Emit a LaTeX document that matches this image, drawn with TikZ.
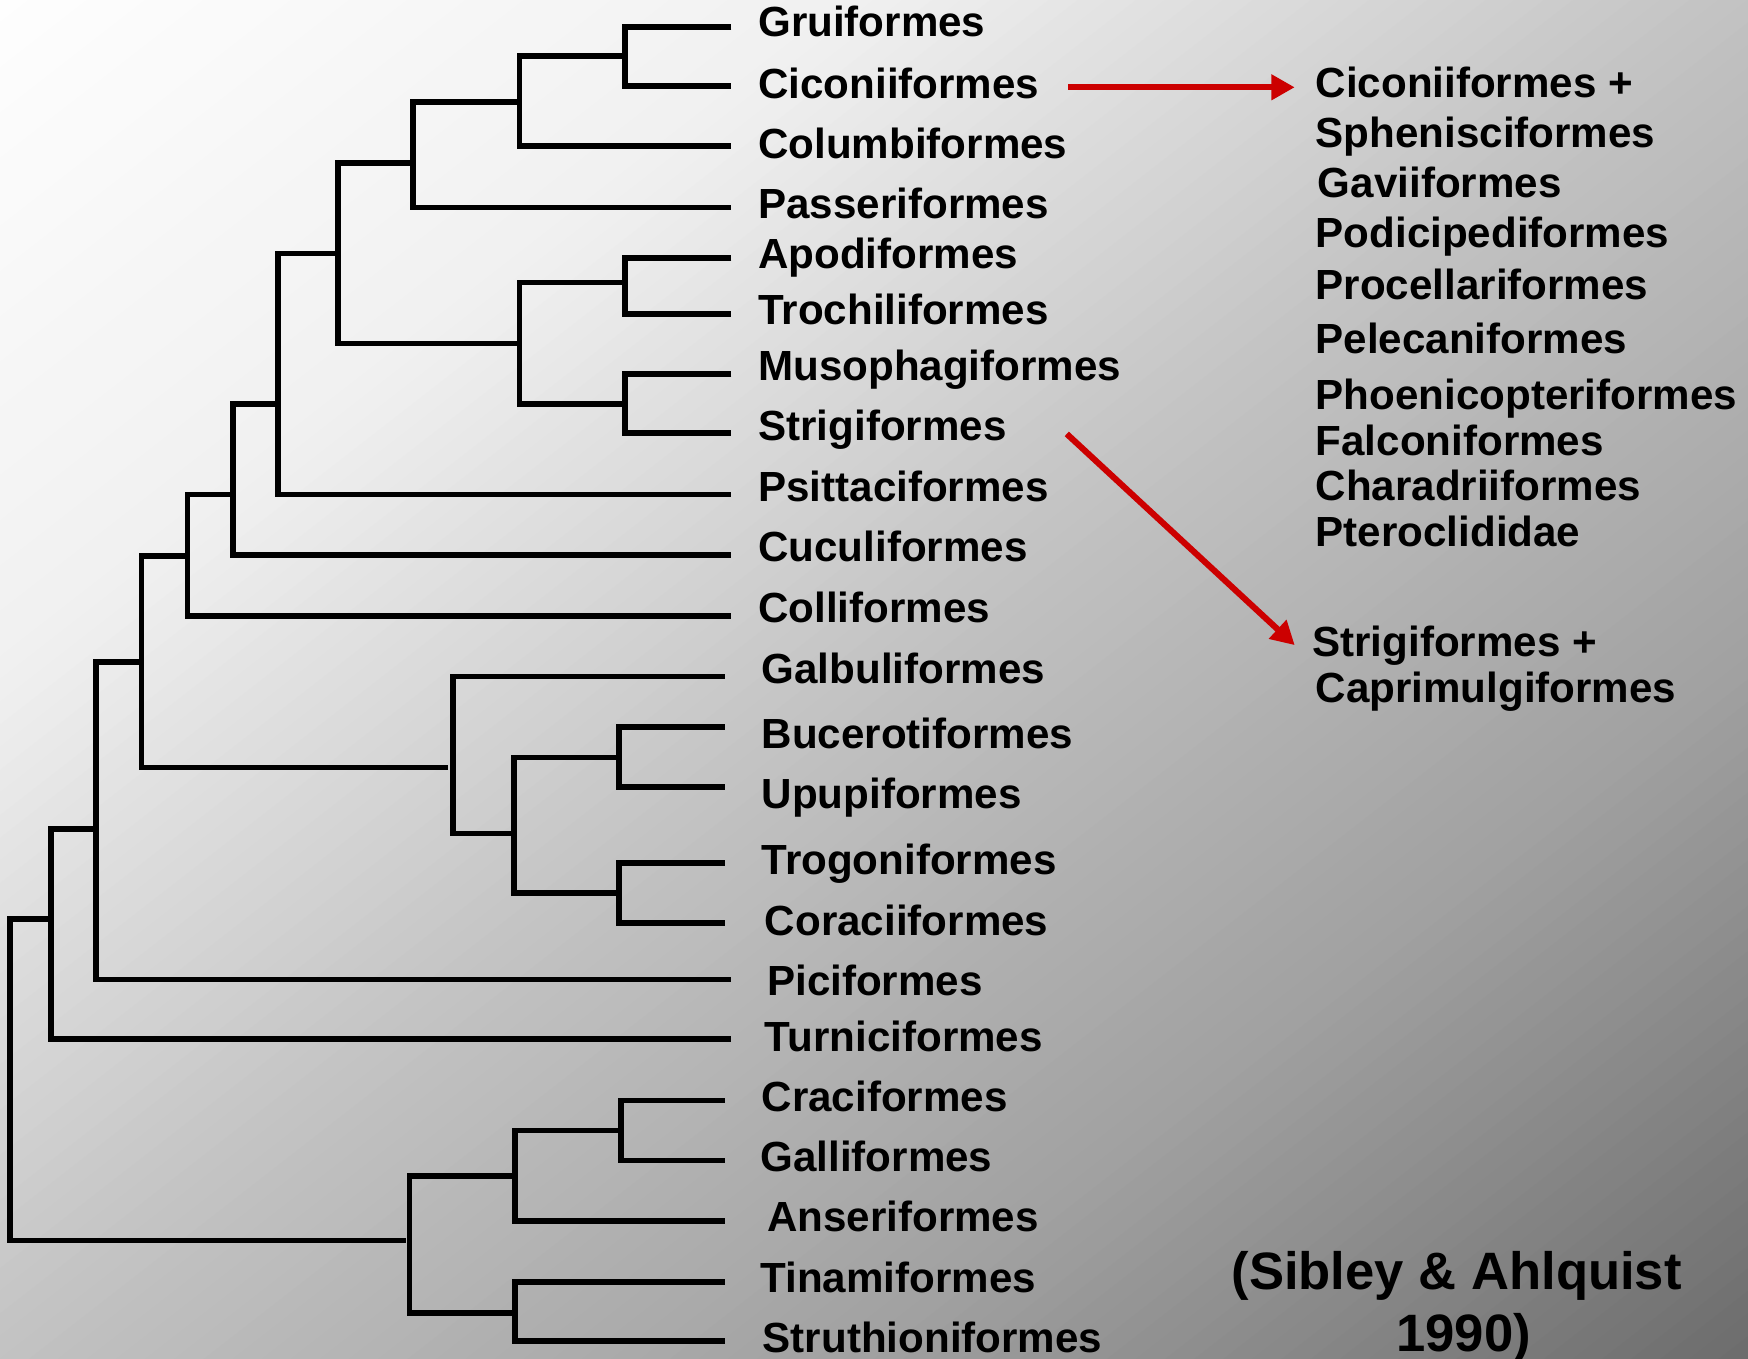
\documentclass[tikz,border=0pt]{standalone}
\usepackage{fontspec}
\setmainfont{Liberation Sans}
\usetikzlibrary{arrows.meta}
\definecolor{arrred}{RGB}{204,0,0}
\begin{document}
\begin{tikzpicture}[x=1pt,y=-1pt,
  br/.style={line width=5pt, black, line join=miter},
  lab/.style={anchor=base west, inner sep=0pt, font=\fontsize{37.8}{42}\selectfont\bfseries},
  citestyle/.style={anchor=base, inner sep=0pt, font=\fontsize{47.2}{54}\selectfont\bfseries},
  redarr/.style={line width=5.5pt, draw=arrred, -{Triangle[length=21pt,width=22pt]}}]
\useasboundingbox (0,0) rectangle (1568,1219);
% background gradient
\begin{scope}
\clip (0,0) rectangle (1568,1219);
\foreach \k in {0,...,119}{
  \pgfmathsetmacro\tval{(\k+0.5)/120}
  \pgfmathsetmacro\gval{(\tval<0.25 ? 254-56*\tval : (\tval<0.5 ? 240-184*(\tval-0.25) : (\tval<0.75 ? 194-136*(\tval-0.5) : 160-208*(\tval-0.75))))/255}
  \definecolor{bandc}{gray}{\gval}
  \pgfmathsetmacro\bandA{\k/60}
  \pgfmathsetmacro\bandB{(\k+1)/60+0.004}
  \fill[bandc] ({\bandA*1568},0) -- ({\bandB*1568},0) -- (0,{\bandB*1219}) -- (0,{\bandA*1219}) -- cycle;
}
\end{scope}

% leaf ends
\coordinate (gru-e) at (656,24);
\coordinate (cic-e) at (656,77.3);
\coordinate (col-e) at (656,131);
\coordinate (pas-e) at (656,186);
\coordinate (apo-e) at (656,231.5);
\coordinate (tro-e) at (656,281.5);
\coordinate (mus-e) at (656,335.6);
\coordinate (str-e) at (656,388.5);
\coordinate (psi-e) at (656,443.7);
\coordinate (cuc-e) at (656,497.8);
\coordinate (cll-e) at (656,552.7);
\coordinate (gal-e) at (650,607);
\coordinate (buc-e) at (650,652);
\coordinate (upu-e) at (650,706);
\coordinate (trg-e) at (650,774);
\coordinate (cor-e) at (650,828);
\coordinate (pic-e) at (656,878.5);
\coordinate (tur-e) at (656,932);
\coordinate (cra-e) at (650,987);
\coordinate (gll-e) at (650,1041);
\coordinate (ans-e) at (650,1095.3);
\coordinate (tin-e) at (650,1150);
\coordinate (sth-e) at (650,1203);

% internal nodes
\coordinate (a1) at (560.6,50);
\coordinate (a2) at (466,91.3);
\coordinate (a3) at (370.7,146);
\coordinate (a4) at (560.6,253.5);
\coordinate (a5) at (560.6,362.4);
\coordinate (a6) at (466,308);
\coordinate (a7) at (303,227.5);
\coordinate (a8) at (249.4,362.4);
\coordinate (a9) at (209,443.7);
\coordinate (a10) at (168,498.6);
\coordinate (a11) at (126.8,594);
\coordinate (b1) at (555,679.3);
\coordinate (b2) at (555,801);
\coordinate (b3) at (461.3,747.5);
\coordinate (b4) at (406.4,688.6);
\coordinate (a12) at (86,743.4);
\coordinate (a13) at (45.8,824.6);
\coordinate (c1) at (557,1014);
\coordinate (c2) at (462,1054.7);
\coordinate (c3) at (462,1177.7);
\coordinate (c4) at (367.5,1112.7);
\coordinate (root) at (9.2,968);

% branches
\draw[br] (gru-e) -| (a1) |- (cic-e);
\draw[br] (a1) -| (a2) |- (col-e);
\draw[br] (a2) -| (a3) |- (pas-e);
\draw[br] (apo-e) -| (a4) |- (tro-e);
\draw[br] (mus-e) -| (a5) |- (str-e);
\draw[br] (a4) -| (a6) |- (a5);
\draw[br] (a3) -| (a7) |- (a6);
\draw[br] (a7) -| (a8) |- (psi-e);
\draw[br] (a8) -| (a9) |- (cuc-e);
\draw[br] (a9) -| (a10) |- (cll-e);
\draw[br] (buc-e) -| (b1) |- (upu-e);
\draw[br] (trg-e) -| (b2) |- (cor-e);
\draw[br] (b1) -| (b3) |- (b2);
\draw[br] (gal-e) -| (b4) |- (b3);
\draw[br] (a10) -| (a11) |- ([xshift=-4.6pt]b4);
\draw[br] (a11) -| (a12) |- (pic-e);
\draw[br] (a12) -| (a13) |- (tur-e);
\draw[br] (cra-e) -| (c1) |- (gll-e);
\draw[br] (c1) -| (c2) |- (ans-e);
\draw[br] (tin-e) -| (c3) |- (sth-e);
\draw[br] (c2) -| (c4) |- (c3);
\draw[br] (a13) -| (root) |- ([xshift=-3.7pt]c4);

% leaf labels
\node[lab] (gru) at (680,33) {Gruiformes};
\node[lab] (cic) at (680,88) {Ciconiiformes};
\node[lab] (col) at (680,142) {Columbiformes};
\node[lab] (pas) at (680,196) {Passeriformes};
\node[lab] (apo) at (680,241) {Apodiformes};
\node[lab] (tro) at (680,291) {Trochiliformes};
\node[lab] (mus) at (680,341) {Musophagiformes};
\node[lab] (str) at (680,395) {Strigiformes};
\node[lab] (psi) at (680,450) {Psittaciformes};
\node[lab] (cuc) at (680,504) {Cuculiformes};
\node[lab] (cll) at (680,558) {Colliformes};
\node[lab] (gal) at (683,613) {Galbuliformes};
\node[lab] (buc) at (683,671) {Bucerotiformes};
\node[lab] (upu) at (683,725) {Upupiformes};
\node[lab] (trg) at (683,784) {Trogoniformes};
\node[lab] (cor) at (686,839) {Coraciiformes};
\node[lab] (pic) at (688,893) {Piciformes};
\node[lab] (tur) at (686,943) {Turniciformes};
\node[lab] (cra) at (683,997) {Craciformes};
\node[lab] (gll) at (682,1051) {Galliformes};
\node[lab] (ans) at (688,1105) {Anseriformes};
\node[lab] (tin) at (682,1159) {Tinamiformes};
\node[lab] (sth) at (684,1213) {Struthioniformes};

% right column
\node[lab] (r1) at (1180,87.3) {Ciconiiformes +};
\node[lab] (r2) at (1180,132.6) {Sphenisciformes};
\node[lab] (r3) at (1182,177) {Gaviiformes};
\node[lab] (r4) at (1180,222.4) {Podicipediformes};
\node[lab] (r5) at (1180,268.5) {Procellariformes};
\node[lab] (r6) at (1180,317) {Pelecaniformes};
\node[lab] (r7) at (1180,367.4) {Phoenicopteriformes};
\node[lab] (r8) at (1180,408.6) {Falconiformes};
\node[lab] (r9) at (1180,449) {Charadriiformes};
\node[lab] (r10) at (1180,490) {Pteroclididae};
\node[lab] (s1) at (1177,589) {Strigiformes +};
\node[lab] (s2) at (1180,630) {Caprimulgiformes};

% arrows
\coordinate (ar1s) at (958.2,78.3);
\coordinate (ar1e) at (1161.4,78.3);
\coordinate (ar2s) at (956.9,389.2);
\coordinate (ar2e) at (1161.4,578.7);
\draw[redarr] (ar1s) -- (ar1e);
\draw[redarr] (ar2s) -- (ar2e);

% citation
\node[citestyle] (cite1) at (1306.6,1157) {(Sibley \& Ahlquist};
\node[citestyle] (cite2) at (1313,1212) {1990)};
\end{tikzpicture}
\end{document}
